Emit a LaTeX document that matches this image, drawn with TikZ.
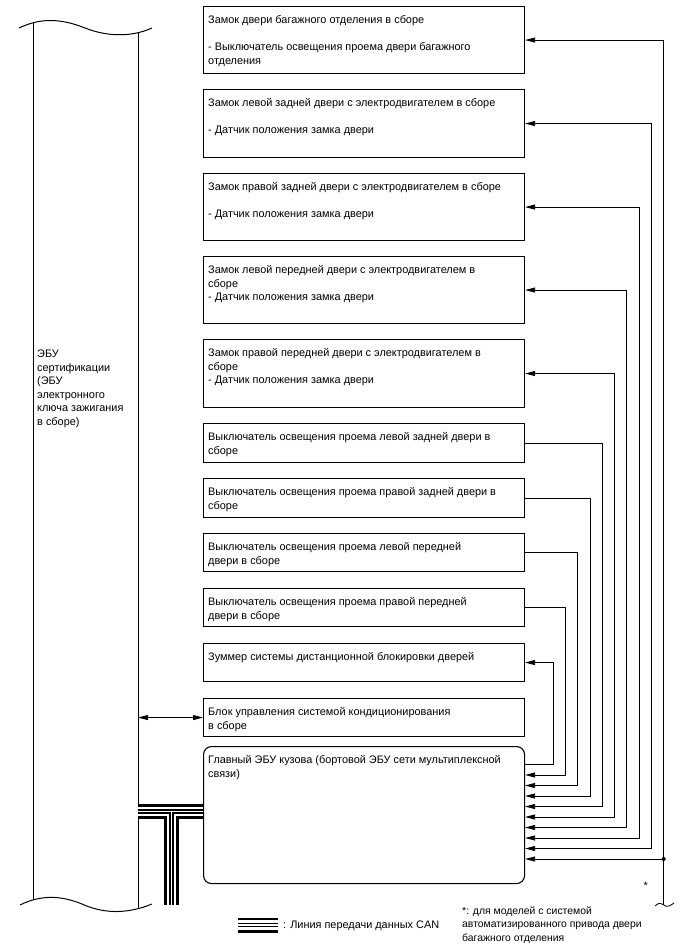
\documentclass[tikz,border=0pt]{standalone}
\usepackage{fontspec}
\setmainfont{Liberation Sans}
\usetikzlibrary{positioning,arrows.meta,calc}

\tikzset{
  box/.style={draw, line width=1.1pt, minimum width=321pt, inner sep=0pt, anchor=north west},
  txt/.style={font=\fontsize{10.9}{13.5}\selectfont, align=left, inner sep=0pt, anchor=north west},
  conn/.style={line width=0.8pt},
  >={Triangle[length=10pt,width=5pt]}
}

\begin{document}
\begin{tikzpicture}[x=1pt, y=-1pt]
  \useasboundingbox (0,0) rectangle (688,949);
  % Certification ECU column, cut at both ends
  \draw[line width=1pt] (19,28) .. controls (40,18) and (60,18) .. (85,28) .. controls (105,36) and (130,38) .. (152,28);
  \draw[line width=1pt] (20,905) .. controls (40,895) and (60,895) .. (82,904) .. controls (102,913) and (125,915) .. (152,904);
  \draw[line width=1pt] (33,23) -- (33,900);
  \draw[line width=1pt] (138,32.6) -- (138,908.5);
  \coordinate (ecuEdge) at (138,0);
  \node[txt] (ecuText) at (37,348) {\strut ЭБУ\\сертификации\\(ЭБУ\\электронного\\ключа зажигания\\в сборе)};
  % Component boxes
  \foreach \name/\ytop/\hgt/\txt in {
    trunk/6/67/{Замок двери багажного отделения в сборе\\[13.5pt]- Выключатель освещения проема двери багажного\\отделения},
    rlLock/89/68/{Замок левой задней двери с электродвигателем в сборе\\[13.5pt]- Датчик положения замка двери},
    rrLock/173/67/{Замок правой задней двери с электродвигателем в сборе\\[13.5pt]- Датчик положения замка двери},
    flLock/256/67/{Замок левой передней двери с электродвигателем в\\сборе\\- Датчик положения замка двери},
    frLock/339/68/{Замок правой передней двери с электродвигателем в\\сборе\\- Датчик положения замка двери},
    rlSw/423/39/{Выключатель освещения проема левой задней двери в\\сборе},
    rrSw/478/39/{Выключатель освещения проема правой задней двери в\\сборе},
    flSw/533/38/{Выключатель освещения проема левой передней\\двери в сборе},
    frSw/588/38/{Выключатель освещения проема правой передней\\двери в сборе},
    buzzer/643/38/{Зуммер системы дистанционной блокировки дверей},
    acAmp/698/38/{Блок управления системой кондиционирования\\в сборе}}
  {
    \node[box, minimum height=\hgt] (\name) at (203,\ytop) {};
    \node[txt] (\name-t) at ([shift={(5,8)}]\name.north west) {\strut\txt};
  }
  % Main body ECU
  \node[box, rounded corners=8pt, minimum height=137] (mainEcu) at (203,746) {};
  \node[txt] (mainEcu-t) at ([shift={(5,8)}]mainEcu.north west) {\strut Главный ЭБУ кузова (бортовой ЭБУ сети мультиплексной\\связи)};
  % Signal lines to the main body ECU
  \foreach \name [count=\k] in {frSw,flSw,rrSw,rlSw}{
    \pgfmathsetmacro\xx{553+12.3*\k}
    \pgfmathsetmacro\yy{775+10.5*(\k-1)}
    \draw[conn,->] (\name.east) -| (\xx,\yy) -- (mainEcu.east |- 0,\yy);
  }
  \foreach \name [count=\k from 5] in {frLock,flLock,rrLock,rlLock}{
    \pgfmathsetmacro\xx{553+12.3*\k}
    \pgfmathsetmacro\yy{775+10.5*(\k-1)}
    \draw[conn,<->] (\name.east) -| (\xx,\yy) -- (mainEcu.east |- 0,\yy);
  }
  \coordinate (trunkCut) at (663.7,905);
  \coordinate (trunkJoin) at (663.7,859);
  \draw[conn,->] (trunkCut) |- (trunk.east);
  \draw[conn,->] (trunkJoin) -- (mainEcu.east |- trunkJoin);
  \fill (trunkJoin) circle (2pt);
  \draw[conn] (655,906) .. controls (659,902) and (662,903) .. (664,905) .. controls (666,907) and (669,907) .. (674,903);
  \node[txt, anchor=base] (star) at (645.7,889) {*};
  \draw[conn,->] (mainEcu.east |- 0,764.5) -| (553,0 |- buzzer.east) -- (buzzer.east);
  \draw[conn,<->] (ecuEdge |- acAmp.west) -- (acAmp.west);
  % CAN bus
  \coordinate (busT) at (171.5,811.5);
  \coordinate (busEnd) at (171.5,905);
  \coordinate (keyA) at (238,925);
  \coordinate (keyB) at (278,925);
  \foreach \w/\c in {15/black,9.5/white,4.5/black,1.2/white}
    \draw[line width=\w pt, \c] (ecuEdge |- busT) -- (mainEcu.west |- busT) (busT) -- (busEnd) (keyA) -- (keyB);
  % Legend and note
  \node[txt, anchor=base west] (keyText) at (283,928.6) {: Линия передачи данных CAN};
  \node[txt, font=\fontsize{10.4}{13.5}\selectfont] (note) at (462,904.5) {\strut*: для моделей с системой\\автоматизированного привода двери\\багажного отделения};
\end{tikzpicture}
\end{document}
